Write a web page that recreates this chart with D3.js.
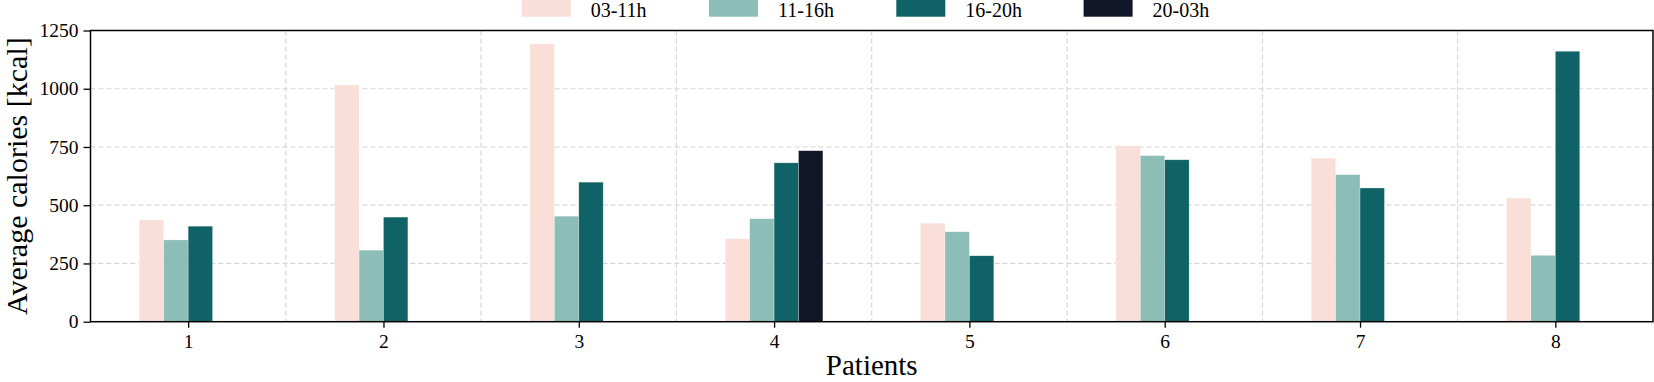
<!DOCTYPE html>
<html>
<head>
<meta charset="utf-8">
<script src="https://cdn.jsdelivr.net/npm/d3@7"></script>
<style>
  body { margin: 0; background: #fff; }
  svg text { font-family: "Liberation Serif", serif !important; }
</style>
</head>
<body>
<div id="chart"></div>
<script>
// data
const patients = [1, 2, 3, 4, 5, 6, 7, 8];
const periods = ["03-11h", "11-16h", "16-20h", "20-03h"];
const cal0311 = [437, 1016, 1193, 356, 423, 755, 702, 531];
const cal1116 = [351, 307, 453, 442, 386, 713, 631, 285];
const cal1620 = [410, 449, 599, 682, 283, 695, 574, 1161];
const cal2003 = [null, null, null, 734, null, null, null, null];
const yTicks = [0, 250, 500, 750, 1000, 1250];
const colors = ["#f9dfd8", "#8cbdb7", "#0f6266", "#111628"];

const allSeries = [cal0311, cal1116, cal1620, cal2003];

const width = 1654, height = 382;
const margin = {top: 30.5, right: 1, bottom: 60.3, left: 90.5};
const visWidth = width - margin.left - margin.right;
const visHeight = height - margin.top - margin.bottom;

const svg = d3.select('#chart').append('svg')
  .attr('width', width)
  .attr('height', height);

const g = svg.append('g')
  .attr('transform', `translate(${margin.left}, ${margin.top})`);

const x = d3.scaleLinear()
  .domain([0.5, 8.5])
  .range([0, visWidth]);

const y = d3.scaleLinear()
  .domain([0, 1250])
  .range([visHeight, 0]);

// grid
const gridColor = "#d6d6d6";
g.append('g')
  .selectAll('line')
  .data(yTicks.slice(1, -1))
  .join('line')
    .attr('x1', 0).attr('x2', visWidth)
    .attr('y1', d => y(d)).attr('y2', d => y(d))
    .attr('stroke', gridColor)
    .attr('stroke-width', 1.2)
    .attr('stroke-dasharray', '5,3');

g.append('g')
  .selectAll('line')
  .data(patients.slice(0, -1).map(p => p + 0.5))
  .join('line')
    .attr('x1', d => x(d)).attr('x2', d => x(d))
    .attr('y1', 0).attr('y2', visHeight)
    .attr('stroke', gridColor)
    .attr('stroke-width', 1.2)
    .attr('stroke-dasharray', '5,3');

// bars
const barW = 0.125;
const offsets = [-0.25, -0.125, 0, 0.125];

allSeries.forEach((vals, i) => {
  const rows = patients.map((p, j) => ({p: p, v: vals[j]})).filter(d => d.v != null);
  g.append('g')
    .selectAll('rect')
    .data(rows)
    .join('rect')
      .attr('x', d => x(d.p + offsets[i]))
      .attr('y', d => y(d.v))
      .attr('width', x(barW) - x(0))
      .attr('height', d => y(0) - y(d.v))
      .attr('fill', colors[i])
      .attr('stroke', 'rgba(255,255,255,0.45)')
      .attr('stroke-width', 0.6);
});

// axes
const yAxis = d3.axisLeft(y).tickValues(yTicks).tickFormat(d3.format('d'))
  .tickSize(7).tickPadding(5);
g.append('g')
  .call(yAxis)
  .attr('font-family', null)
  .call(g => g.select('.domain').remove())
  .call(g => g.selectAll('line').attr('stroke-width', 1.3))
  .selectAll('text')
    .attr('font-size', '19.5px')
    .attr('fill', '#000');

const xAxis = d3.axisBottom(x).tickValues(patients).tickFormat(d3.format('d'))
  .tickSize(6).tickPadding(6);
g.append('g')
  .attr('transform', `translate(0, ${visHeight})`)
  .call(xAxis)
  .attr('font-family', null)
  .call(g => g.select('.domain').remove())
  .call(g => g.selectAll('line').attr('stroke-width', 1.3))
  .selectAll('text')
    .attr('font-size', '19.5px')
    .attr('fill', '#000');

// frame
g.append('rect')
  .attr('width', visWidth)
  .attr('height', visHeight)
  .attr('fill', 'none')
  .attr('stroke', '#000')
  .attr('stroke-width', 1.5);

// axis titles
svg.append('text')
  .attr('transform', `translate(27, ${margin.top + visHeight / 2}) rotate(-90)`)
  .attr('text-anchor', 'middle')
  .attr('font-size', '30px')
  .text('Average calories [kcal]');

svg.append('text')
  .attr('x', margin.left + visWidth / 2)
  .attr('y', 375)
  .attr('text-anchor', 'middle')
  .attr('font-size', '29px')
  .text('Patients');

// legend
const legend = svg.append('g');
const item = legend.selectAll('g')
  .data(periods)
  .join('g')
    .attr('transform', (d, i) => `translate(${521.7 + i * 187.3}, 0)`);

item.append('rect')
  .attr('x', 0).attr('y', -4)
  .attr('width', 49).attr('height', 20.7)
  .attr('fill', (d, i) => colors[i]);

item.append('text')
  .attr('x', 69)
  .attr('y', 17)
  .attr('font-size', '20px')
  .text(d => d);
</script>
</body>
</html>
